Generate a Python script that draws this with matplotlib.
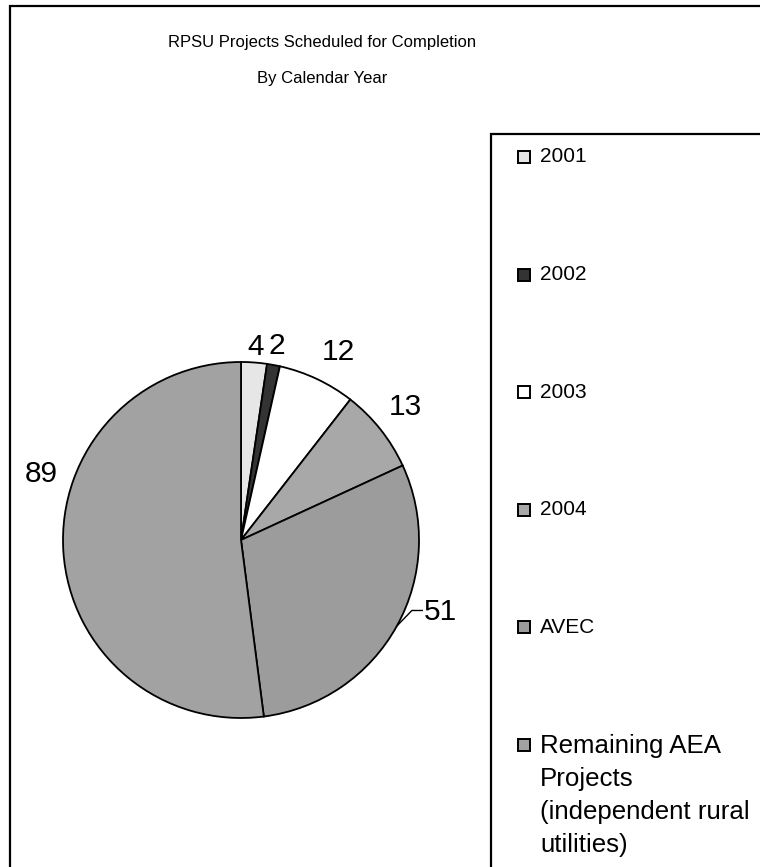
import numpy as np
import matplotlib
matplotlib.use("Agg")
from matplotlib import pyplot as plt
from matplotlib.patches import Rectangle

title_lines = ["RPSU Projects Scheduled for Completion", "By Calendar Year"]
categories = ["2001", "2002", "2003", "2004", "AVEC",
              "Remaining AEA\nProjects\n(independent rural\nutilities)"]
projects = [4, 2, 12, 13, 51, 89]
colors = ["#e6e6e6", "#333333", "#ffffff", "#a8a8a8", "#9c9c9c", "#a2a2a2"]

# where each value label sits: distance from centre (in radii) and angle nudge (deg)
label_dist = [1.09, 1.11, 1.19, 1.19, 1.19, 1.18]
label_shift = [0, 0, -2, 0.6, 9, -22]

plt.rcParams["font.family"] = ["Liberation Sans", "DejaVu Sans"]

W, H = 760, 867
fig = plt.figure(figsize=(W / 100, H / 100), dpi=100)

# outer chart frame and legend frame (both run off the right / bottom edge)
fig.patches.append(Rectangle((10 / W, -0.1), 1.1, 1.1 - 6 / H, transform=fig.transFigure,
                             fill=False, edgecolor="black", linewidth=1.6))
fig.patches.append(Rectangle((491 / W, -0.1), 1.0, 1.1 - 134 / H, transform=fig.transFigure,
                             fill=False, edgecolor="black", linewidth=1.6))

for k, line in enumerate(title_lines):
    fig.text(322 / W, 1 - (43 + 35 * k) / H, line, ha="center", va="center", fontsize=12)

# pie: centre (241, 540) px, radius 178 px
r_px = 178
ax = fig.add_axes([(241 - r_px) / W, (H - 540 - r_px) / H, 2 * r_px / W, 2 * r_px / H])
wedges, _ = ax.pie(projects, colors=colors, startangle=90, counterclock=False,
                   wedgeprops=dict(edgecolor="black", linewidth=1.3))
ax.set_xlim(-1, 1)
ax.set_ylim(-1, 1)
ax.set_aspect("equal")
ax.axis("off")

for i, w in enumerate(wedges):
    mid = (w.theta1 + w.theta2) / 2
    ang = np.deg2rad(mid + label_shift[i])
    x, y = label_dist[i] * np.cos(ang), label_dist[i] * np.sin(ang)
    ax.text(x, y, str(projects[i]), ha="center", va="center", fontsize=21.5, clip_on=False)
    if i == 4:
        # leader line for the moved AVEC label
        m = np.deg2rad(mid)
        ex, ey = np.cos(m), np.sin(m)
        kx, ky = 0.96, y + 0.01
        ax.plot([ex, kx, x - 0.1], [ey, ky, ky], color="black", linewidth=1.0, clip_on=False)

# legend drawn by hand
entry_y = [157 + 117.6 * k for k in range(len(categories))]
for i, lab in enumerate(categories):
    yc = 1 - entry_y[i] / H
    fig.patches.append(Rectangle((518 / W, yc - 6 / H), 12 / W, 12 / H, transform=fig.transFigure,
                                 facecolor=colors[i], edgecolor="black", linewidth=1.4))
    if "\n" in lab:
        fig.text(540 / W, yc + 11 / H, lab, ha="left", va="top", fontsize=18.6, linespacing=1.47)
    else:
        fig.text(540 / W, yc, lab, ha="left", va="center", fontsize=15)

fig.savefig("out.png", dpi=100)
